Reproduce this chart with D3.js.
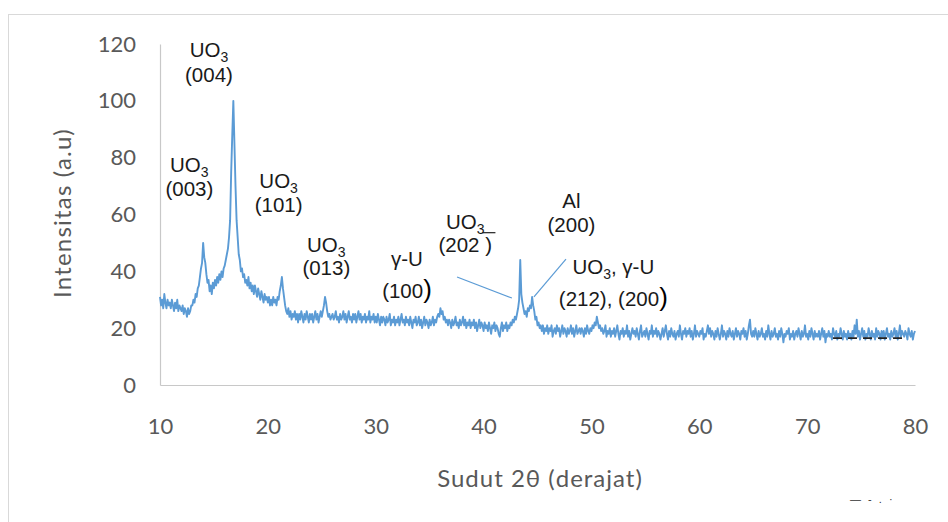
<!DOCTYPE html>
<html>
<head>
<meta charset="utf-8">
<script src="https://cdn.jsdelivr.net/npm/d3@7/dist/d3.min.js"></script>
<style>
  body { margin: 0; background: #ffffff; }
  svg { display: block; }
</style>
</head>
<body>
<svg id="chart" width="948" height="522"></svg>
<script>
// XRD scan: intensity sampled every 0.1 degree of 2θ, from 10 to 80
const twoThetaStart = 10;
const twoThetaStep = 0.1;
const intensity = [
  31, 28, 30, 27, 32, 29, 27, 30, 28, 29,   // 10
  27, 30, 28, 26, 29, 27, 30, 26, 28, 27,   // 11
  26, 28, 25, 27, 26, 24, 27, 25, 26, 28,   // 12
  28, 30, 29, 32, 31, 34, 35, 38, 41, 43,   // 13
  50, 45, 43, 39, 36, 37, 33, 35, 32, 36,   // 14
  34, 37, 35, 38, 36, 39, 37, 40, 38, 41,   // 15
  42, 44, 46, 48, 52, 58, 75, 88, 100, 85,  // 16
  70, 58, 52, 46, 44, 40, 41, 38, 39, 36,   // 17
  37, 35, 38, 34, 36, 33, 35, 32, 35, 33,   // 18
  31, 34, 32, 30, 33, 31, 29, 32, 30, 31,   // 19
  29, 31, 28, 30, 28, 31, 29, 30, 28, 31,   // 20
  30, 33, 35, 38, 34, 31, 28, 26, 25, 27,   // 21
  24, 26, 23, 25, 24, 26, 23, 25, 22, 25,   // 22
  23, 26, 24, 22, 25, 23, 26, 24, 22, 25,   // 23
  23, 25, 22, 24, 26, 23, 25, 22, 24, 26,   // 24
  24, 26, 28, 31, 29, 26, 24, 25, 23, 24,   // 25
  25, 23, 24, 26, 23, 24, 22, 25, 23, 24,   // 26
  26, 23, 25, 22, 24, 26, 23, 24, 22, 25,   // 27
  23, 25, 22, 24, 26, 23, 25, 22, 24, 23,   // 28
  25, 22, 24, 23, 26, 22, 24, 23, 25, 22,   // 29
  24, 22, 25, 23, 21, 24, 22, 24, 23, 21,   // 30
  24, 22, 23, 25, 21, 23, 22, 24, 21, 23,   // 31
  22, 24, 21, 23, 25, 22, 23, 21, 24, 22,   // 32
  23, 21, 24, 22, 20, 23, 22, 24, 21, 22,   // 33
  24, 21, 23, 20, 22, 24, 21, 23, 22, 20,   // 34
  23, 21, 22, 24, 21, 23, 22, 24, 25, 24,   // 35
  27, 25, 26, 23, 24, 22, 23, 21, 23, 22,   // 36
  20, 23, 21, 22, 24, 21, 22, 20, 23, 21,   // 37
  22, 24, 21, 23, 20, 22, 21, 23, 20, 22,   // 38
  21, 23, 20, 22, 19, 21, 23, 20, 22, 21,   // 39
  19, 22, 20, 21, 19, 22, 20, 18, 21, 20,   // 40
  22, 19, 21, 20, 18, 17, 20, 22, 19, 21,   // 41
  20, 22, 19, 21, 20, 22, 21, 23, 22, 24,   // 42
  23, 25, 27, 30, 44, 32, 29, 27, 25, 26,   // 43
  24, 27, 26, 28, 27, 31, 28, 26, 23, 24,   // 44
  21, 22, 20, 21, 19, 21, 18, 20, 19, 21,   // 45
  18, 20, 19, 21, 17, 19, 20, 18, 21, 19,   // 46
  20, 17, 19, 21, 18, 20, 19, 17, 20, 18,   // 47
  19, 21, 18, 20, 17, 19, 21, 18, 19, 20,   // 48
  18, 20, 19, 17, 20, 18, 21, 19, 18, 20,   // 49
  19, 21, 20, 22, 21, 24, 22, 20, 21, 19,   // 50
  20, 18, 19, 21, 17, 19, 18, 20, 17, 19,   // 51
  18, 20, 17, 19, 21, 18, 16, 19, 18, 20,   // 52
  17, 19, 18, 21, 17, 19, 16, 18, 20, 18,   // 53
  19, 17, 20, 18, 16, 19, 21, 17, 18, 19,   // 54
  17, 20, 18, 16, 19, 18, 21, 17, 19, 18,   // 55
  20, 17, 19, 18, 16, 18, 20, 17, 19, 21,   // 56
  18, 16, 19, 17, 20, 18, 17, 19, 16, 18,   // 57
  19, 17, 21, 18, 16, 19, 18, 20, 17, 19,   // 58
  18, 20, 17, 19, 16, 18, 21, 17, 19, 18,   // 59
  17, 19, 18, 20, 16, 18, 17, 19, 21, 18,   // 60
  20, 17, 19, 18, 16, 19, 17, 20, 18, 16,   // 61
  18, 21, 17, 19, 18, 16, 19, 17, 20, 18,   // 62
  17, 19, 16, 18, 20, 17, 19, 18, 16, 19,   // 63
  18, 20, 17, 19, 16, 18, 21, 23, 18, 17,   // 64
  19, 17, 20, 18, 16, 19, 17, 18, 20, 17,   // 65
  18, 16, 19, 17, 21, 18, 16, 19, 17, 18,   // 66
  20, 17, 18, 16, 19, 17, 20, 18, 15, 18,   // 67
  17, 19, 18, 20, 16, 18, 17, 19, 16, 18,   // 68
  19, 17, 20, 18, 16, 19, 17, 18, 21, 17,   // 69
  18, 16, 19, 17, 20, 18, 16, 19, 17, 18,   // 70
  17, 19, 16, 18, 20, 17, 19, 15, 18, 17,   // 71
  19, 17, 18, 16, 20, 18, 17, 19, 16, 18,   // 72
  17, 20, 18, 16, 19, 17, 18, 16, 19, 17,   // 73
  18, 16, 19, 17, 21, 18, 23, 17, 19, 16,   // 74
  18, 20, 17, 19, 16, 18, 17, 20, 18, 16,   // 75
  19, 17, 18, 16, 20, 17, 19, 18, 16, 19,   // 76
  17, 19, 16, 18, 20, 17, 18, 16, 19, 17,   // 77
  18, 20, 17, 19, 16, 18, 21, 17, 19, 18,   // 78
  17, 19, 18, 16, 20, 18, 17, 19, 16, 18,   // 79
  19                                        // 80
];

const xTicks = [10, 20, 30, 40, 50, 60, 70, 80];
const yTicks = [0, 20, 40, 60, 80, 100, 120];
const xTitle = "Sudut 2θ (derajat)";
const yTitle = "Intensitas (a.u)";

// Peak identifications; each line is a list of text parts ("sub" = subscript, "big" = enlarged glyph)
const peakLabels = [
  { x: 14.54, lines: [{ y: 115.4, parts: ["UO", ["3", "sub"]] }, { y: 106.6, parts: ["(004)"] }] },
  { x: 12.72, lines: [{ y: 74.9, parts: ["UO", ["3", "sub"]] }, { y: 66.5, parts: ["(003)"] }] },
  { x: 21.0,  lines: [{ y: 69.3, parts: ["UO", ["3", "sub"]] }, { y: 60.9, parts: ["(101)"] }] },
  { x: 25.42, lines: [{ y: 46.8, parts: ["UO", ["3", "sub"]] }, { y: 38.7, parts: ["(013)"] }] },
  { x: 32.9,  lines: [{ y: 41.9, parts: ["γ-U"] }, { y: 30.6, parts: ["(100", [")", "big"]] }] },
  { x: 38.3,  lines: [{ y: 54.9, parts: ["UO", ["3", "sub"]] }, { y: 46.8, parts: ["(202 )"] }] },
  { x: 48.15, lines: [{ y: 62.3, parts: ["Al"] }, { y: 53.8, parts: ["(200)"] }] },
  { x: 52.03, lines: [{ y: 39.1, parts: ["UO", ["3", "sub"], ", γ-U"] }, { y: 27.8, parts: ["(212), (200", [")", "big"]] }] }
];

// Leader lines from labels to peaks, in (2θ, intensity)
const leaderLines = [
  [[37.54, 38.0], [42.63, 30.6]],
  [[47.64, 44.3], [44.67, 31.0]]
];
const underlineMarks = [
  [[39.9, 53.6], [41.1, 53.6]]
];
const dashedMarks = [
  [[72.4, 16.5], [79.26, 16.5]]
];

const svg = d3.select("#chart");

// chart area border
svg.append("rect")
  .attr("x", 8.5).attr("y", 14.5)
  .attr("width", 1000).attr("height", 600)
  .attr("fill", "#ffffff")
  .attr("stroke", "#d9d9d9").attr("stroke-width", 1);

const x = d3.scaleLinear().domain([10, 80]).range([160, 915]);
const y = d3.scaleLinear().domain([0, 120]).range([385, 44]);

const axisFont = "Lato, 'Open Sans', sans-serif";
const axisColor = "#595959";

// x axis
const gx = svg.append("g")
  .attr("transform", `translate(0,${y(0)})`)
  .call(d3.axisBottom(x).tickValues(xTicks).tickFormat(d3.format("d")).tickSize(0).tickPadding(33));
gx.select(".domain").attr("stroke", "#c8c8c8").attr("stroke-width", 1.2);
gx.selectAll("text").attr("font-family", axisFont).attr("font-size", 22).attr("fill", axisColor);

// y axis
const gy = svg.append("g")
  .attr("transform", `translate(${x(10)},0)`)
  .call(d3.axisLeft(y).tickValues(yTicks).tickFormat(d3.format("d")).tickSize(0).tickPadding(24));
gy.select(".domain").attr("stroke", "#c8c8c8").attr("stroke-width", 1.2);
gy.selectAll("text").attr("font-family", axisFont).attr("font-size", 22).attr("fill", axisColor);

// axis titles
svg.append("text")
  .attr("x", 540).attr("y", 487)
  .attr("text-anchor", "middle")
  .attr("font-family", axisFont).attr("font-size", 24).attr("letter-spacing", 1)
  .attr("fill", axisColor)
  .text(xTitle);

svg.append("text")
  .attr("transform", "translate(71,213) rotate(-90)")
  .attr("text-anchor", "middle")
  .attr("font-family", axisFont).attr("font-size", 24).attr("letter-spacing", 1.2)
  .attr("fill", axisColor)
  .text(yTitle);

// diffraction pattern
const points = intensity.map((v, i) => [twoThetaStart + i * twoThetaStep, v]);
const line = d3.line().x(d => x(d[0])).y(d => y(d[1]));
svg.append("path")
  .datum(points)
  .attr("fill", "none")
  .attr("stroke", "#5b9bd5")
  .attr("stroke-width", 1.9)
  .attr("stroke-linejoin", "round")
  .attr("d", line);

// leader lines
const seg = d3.line().x(d => x(d[0])).y(d => y(d[1]));
svg.selectAll(".leader").data(leaderLines).join("path")
  .attr("class", "leader")
  .attr("fill", "none").attr("stroke", "#5b9bd5").attr("stroke-width", 1.2)
  .attr("d", seg);
svg.selectAll(".uline").data(underlineMarks).join("path")
  .attr("class", "uline")
  .attr("fill", "none").attr("stroke", "#222").attr("stroke-width", 1.2)
  .attr("d", seg);
svg.selectAll(".dashmark").data(dashedMarks).join("path")
  .attr("class", "dashmark")
  .attr("fill", "none").attr("stroke", "#222").attr("stroke-width", 1.8)
  .attr("stroke-dasharray", "9,6")
  .attr("d", seg);

// peak labels
const labelFont = "'Liberation Sans', Arial, sans-serif";
peakLabels.forEach(lbl => {
  lbl.lines.forEach(ln => {
    const t = svg.append("text")
      .attr("x", x(lbl.x)).attr("y", y(ln.y))
      .attr("text-anchor", "middle")
      .attr("font-family", labelFont).attr("font-size", 20.5).attr("fill", "#1a1a1a");
    let shifted = 0;
    ln.parts.forEach(p => {
      const [txt, kind] = Array.isArray(p) ? p : [p, null];
      const ts = t.append("tspan").text(txt);
      if (kind === "sub") {
        ts.attr("font-size", 14).attr("dy", 5);
        shifted = 5;
      } else {
        if (shifted) { ts.attr("dy", -shifted); shifted = 0; }
        if (kind === "big") ts.attr("font-size", 26).attr("fill", "#000");
      }
    });
  });
});

// small clipped legend fragment at the lower right
svg.append("text")
  .attr("x", 850).attr("y", 503)
  .attr("font-family", labelFont).attr("font-size", 11).attr("fill", "#333")
  .attr("letter-spacing", 2)
  .text("— - . ·");
</script>
</body>
</html>
